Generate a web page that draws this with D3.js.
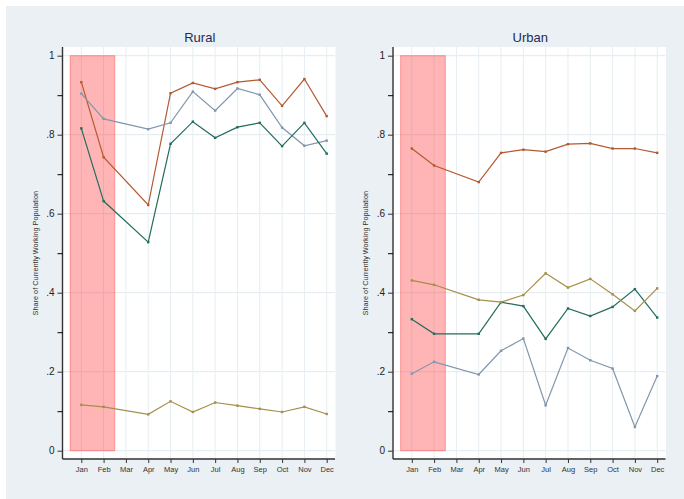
<!DOCTYPE html>
<html>
<head>
<meta charset="utf-8">
<script src="https://cdn.jsdelivr.net/npm/d3@7"></script>
<style>
  body { margin: 0; background: #fff; }
  text { font-family: "Liberation Sans", Arial, sans-serif; }
</style>
</head>
<body>
<svg id="chart" width="684" height="499"></svg>
<script>
// Data.
var months = ["Jan","Feb","Mar","Apr","May","Jun","Jul","Aug","Sep","Oct","Nov","Dec"];
var panels = ["Rural", "Urban"];
var yTicks = [0, 0.2, 0.4, 0.6, 0.8, 1];
var yTickLabels = ["0", ".2", ".4", ".6", ".8", "1"];
var yMinorTicks = [0.1, 0.3, 0.5, 0.7, 0.9];
var shadedMonths = ["Jan", "Feb"];
// no survey in March (null)
var ruralOrange = [0.933, 0.743, null, 0.622, 0.905, 0.931, 0.916, 0.933, 0.939, 0.873, 0.941, 0.847];
var ruralBlue   = [0.904, 0.840, null, 0.814, 0.830, 0.909, 0.861, 0.917, 0.901, 0.818, 0.772, 0.785];
var ruralGreen  = [0.816, 0.632, null, 0.528, 0.777, 0.833, 0.792, 0.819, 0.830, 0.771, 0.830, 0.752];
var ruralGold   = [0.116, 0.111, null, 0.092, 0.125, 0.098, 0.122, 0.114, 0.106, 0.098, 0.111, 0.093];
var urbanOrange = [0.765, 0.722, null, 0.680, 0.754, 0.762, 0.757, 0.776, 0.778, 0.765, 0.765, 0.754];
var urbanGold   = [0.431, 0.420, null, 0.382, 0.376, 0.394, 0.449, 0.413, 0.435, 0.396, 0.354, 0.411];
var urbanGreen  = [0.333, 0.296, null, 0.296, 0.376, 0.366, 0.283, 0.360, 0.341, 0.364, 0.409, 0.337];
var urbanBlue   = [0.195, 0.225, null, 0.193, 0.253, 0.284, 0.115, 0.260, 0.229, 0.208, 0.060, 0.189];

var seriesColors = ["#b35a31", "#8196ad", "#236d5d", "#a58f4a"];
var panelSeries = [
    [ruralOrange, ruralBlue, ruralGreen, ruralGold],
    [urbanOrange, urbanBlue, urbanGreen, urbanGold]
];

// Dimensions.
const panelLeft = [62.5, 393];
const plotW = 272.5;
const plotTop = 47, axisY = 459;

var svg = d3.select("#chart");
svg.append("rect")
    .attr("x", 6).attr("y", 6).attr("width", 678).attr("height", 493)
    .attr("fill", "#eaf0f3");

var xScale = d3.scalePoint()
    .domain(months)
    .range([18.8, 264.2]);
var step = xScale.step();

var yScale = d3.scaleLinear()
    .domain([0, 1])
    .range([450.7, 55.7]);

panels.forEach(function (name, p) {
    var g = svg.append("g")
        .attr("transform", "translate(" + panelLeft[p] + ",0)");

    // plot region
    g.append("rect")
        .attr("x", 0.5).attr("y", plotTop)
        .attr("width", plotW).attr("height", axisY - plotTop - 1)
        .attr("fill", "#fff");

    // grid
    g.selectAll(".vgrid").data(months).enter().append("line")
        .attr("x1", d => xScale(d)).attr("x2", d => xScale(d))
        .attr("y1", plotTop).attr("y2", axisY)
        .attr("stroke", "#e6eef1").attr("stroke-width", 1);
    g.selectAll(".hgrid").data(yTicks).enter().append("line")
        .attr("x1", 0).attr("x2", plotW)
        .attr("y1", d => yScale(d)).attr("y2", d => yScale(d))
        .attr("stroke", "#e6eef1").attr("stroke-width", 1.2);

    // shaded months
    var x0 = xScale(shadedMonths[0]) - step / 2;
    var x1 = xScale(shadedMonths[shadedMonths.length - 1]) + step / 2;
    g.append("rect")
        .attr("x", x0).attr("y", yScale(1))
        .attr("width", x1 - x0).attr("height", yScale(0) - yScale(1))
        .attr("fill", "rgba(255,0,0,0.29)")
        .attr("stroke", "rgba(255,60,60,0.45)").attr("stroke-width", 1);

    // series
    var line = d3.line()
        .defined(d => d.v !== null)
        .x(d => xScale(d.m))
        .y(d => yScale(d.v));
    panelSeries[p].forEach(function (vals, i) {
        var pts = vals.map((v, j) => ({ m: months[j], v: v }));
        var valid = pts.filter(d => d.v !== null);
        g.append("path")
            .datum(valid)
            .attr("fill", "none")
            .attr("stroke", seriesColors[i])
            .attr("stroke-width", 1.2)
            .attr("d", line);
        g.selectAll(".pt" + i).data(valid).enter().append("rect")
            .attr("x", d => xScale(d.m) - 1.2).attr("y", d => yScale(d.v) - 1.2)
            .attr("width", 2.4).attr("height", 2.4)
            .attr("fill", seriesColors[i]);
    });

    // y axis
    var yAxis = d3.axisLeft(yScale)
        .tickValues(yTicks)
        .tickFormat((d, i) => yTickLabels[i])
        .tickSize(5).tickPadding(3);
    var ya = g.append("g").call(yAxis);
    ya.selectAll(".tick text").attr("font-size", 10).attr("fill", "#222")
        .attr("font-family", "Liberation Sans, Arial, sans-serif");
    g.append("g").call(d3.axisLeft(yScale).tickValues(yMinorTicks).tickSize(5).tickFormat(""))
        .select(".domain").remove();
    ya.select(".domain").attr("d", "M0," + plotTop + "V" + axisY).attr("stroke", "#333").attr("stroke-width", 1.4);
    ya.selectAll(".tick line").attr("stroke", "#333");

    // x axis
    var xa = g.append("g")
        .attr("transform", "translate(0," + axisY + ")")
        .call(d3.axisBottom(xScale).tickSize(4).tickPadding(4));
    xa.select(".domain").attr("d", "M0,0H" + plotW).attr("stroke", "#333").attr("stroke-width", 1.4);
    xa.selectAll(".tick line").attr("stroke", "#333");
    xa.selectAll(".tick text").attr("font-size", 7.5).attr("fill", "#333")
        .attr("font-family", "Liberation Sans, Arial, sans-serif");

    // y label
    g.append("text")
        .attr("transform", "translate(-25," + yScale(0.5) + ") rotate(-90)")
        .attr("text-anchor", "middle")
        .attr("font-size", 7.3)
        .attr("fill", "#333")
        .text("Share of Currently Working Population");

    // title
    g.append("text")
        .attr("x", plotW / 2 + 1)
        .attr("y", 41.5)
        .attr("text-anchor", "middle")
        .attr("font-size", 13)
        .attr("fill", "#1e2b53")
        .text(name);
});
</script>
</body>
</html>
